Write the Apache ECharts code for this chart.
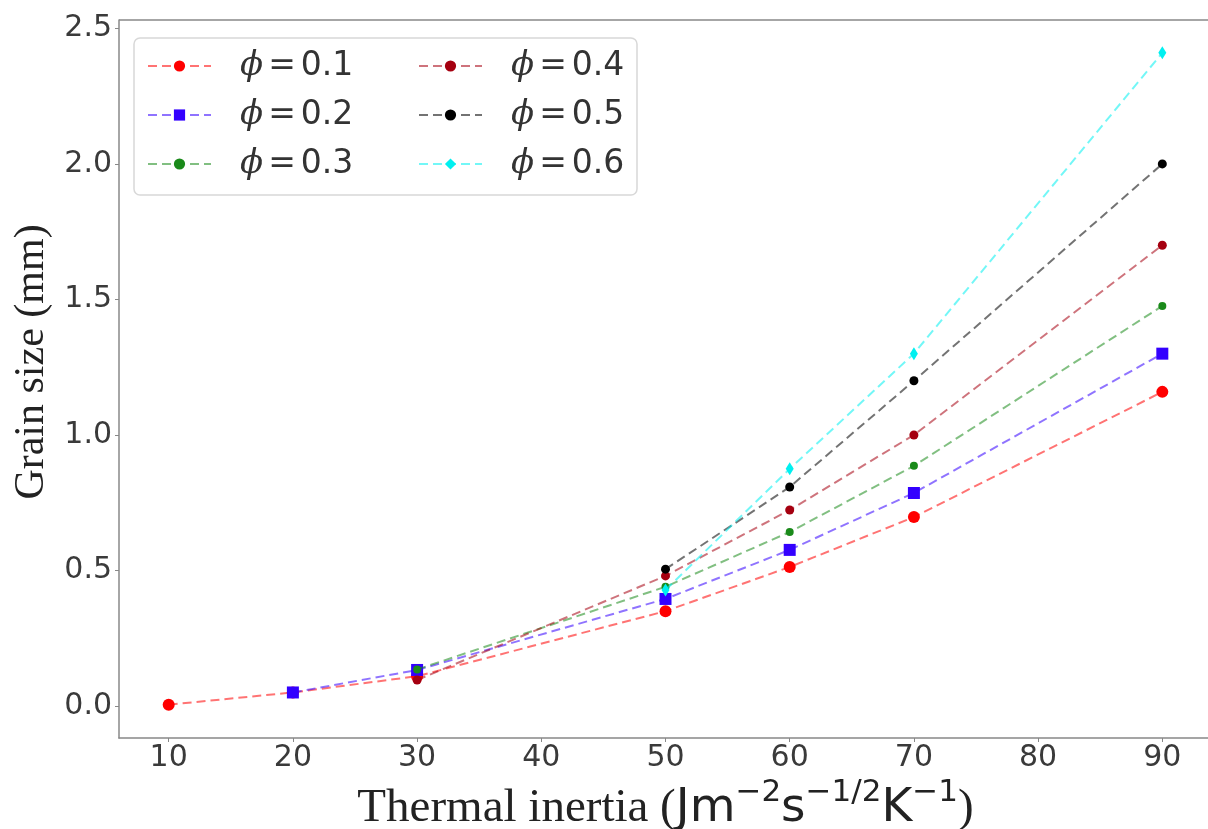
<!DOCTYPE html>
<html>
<head>
<meta charset="utf-8">
<style>
html,body{margin:0;padding:0;background:#fff;}
#chart{width:1208px;height:829px;}
</style>
<script src="https://cdn.jsdelivr.net/npm/echarts@6/dist/echarts.min.js"></script>
</head>
<body>
<div id="chart"></div>
<script>
// ---- data ----
const xValues = [10, 20, 30, 50, 60, 70, 90];
const xTicks = [10, 20, 30, 40, 50, 60, 70, 80, 90];
const yTicks = [0, 0.5, 1.0, 1.5, 2.0, 2.5];
const seriesNames = ['0.1', '0.2', '0.3', '0.4', '0.5', '0.6'];
const phi01 = [0.005, 0.05, 0.11, 0.35, 0.513, 0.697, 1.159];
const phi02 = [null, 0.05, 0.133, 0.395, 0.576, 0.786, 1.30];
const phi03 = [null, null, 0.135, 0.44, 0.642, 0.886, 1.476];
const phi04 = [null, null, 0.096, 0.48, 0.723, 1.0, 1.70];
const phi05 = [null, null, null, 0.505, 0.808, 1.20, 2.0];
const phi06 = [null, null, null, 0.428, 0.875, 1.30, 2.41];
const allValues = [phi01, phi02, phi03, phi04, phi05, phi06];

// ---- styles ----
const colors = ['#ff0000', '#3300ff', '#1a8a1a', '#a50010', '#000000', '#00f0f0'];
const symbols = ['circle', 'rect', 'circle', 'circle', 'circle', 'diamond'];
const symbolSizes = [12, 12, 8, 9, 9, [8, 13]];

function pairs(vals) {
  const out = [];
  vals.forEach((v, i) => { if (v !== null) out.push([xValues[i], v]); });
  return out;
}

const series = allValues.map((vals, k) => ({
  name: seriesNames[k],
  type: 'line',
  data: pairs(vals),
  symbol: symbols[k],
  symbolSize: symbolSizes[k],
  showAllSymbol: true,
  color: colors[k],
  itemStyle: { color: colors[k], opacity: 1 },
  lineStyle: { color: colors[k], width: 2, type: [9, 5], opacity: 0.55 },
  emphasis: { disabled: true },
  animation: false,
  z: 2 + k
}));

const legendText = {
  fontFamily: 'DejaVu Sans',
  fontSize: 33,
  color: '#333',
  lineHeight: 34,
  rich: {
    i: { fontFamily: 'DejaVu Serif', fontStyle: 'italic', fontSize: 34, color: '#333', lineHeight: 34, padding: [0, 0, 0, 24] },
    e: { fontFamily: 'DejaVu Sans', fontSize: 33, color: '#333', lineHeight: 34, padding: [0, 5, 0, 5] },
    t: { fontFamily: 'DejaVu Sans', fontSize: 33, color: '#333', lineHeight: 34 }
  }
};
const legendCommon = {
  orient: 'vertical',
  itemWidth: 63,
  itemHeight: 14,
  itemGap: 15,
  top: 49,
  padding: 0,
  textStyle: legendText,
  formatter: n => '{i|ϕ}{e|=}{t|' + n + '}',
  selectedMode: false
};

const chart = echarts.init(document.getElementById('chart'));
chart.setOption({
  backgroundColor: '#fff',
  animation: false,
  grid: { left: 119, top: 20, bottom: 91, right: -4, containLabel: false, outerBoundsMode: 'none' },
  legend: [
    Object.assign({}, legendCommon, { left: 147, data: seriesNames.slice(0, 3) }),
    Object.assign({}, legendCommon, { left: 418, data: seriesNames.slice(3, 6) })
  ],
  graphic: [{
    type: 'rect',
    shape: { x: 134, y: 38, width: 503, height: 157, r: 6 },
    style: { fill: 'rgba(255,255,255,0.8)', stroke: '#d8d8d8', lineWidth: 1.5 },
    z: 0
  }, {
    type: 'line',
    shape: { x1: 119, y1: 20, x2: 1208, y2: 20 },
    style: { stroke: '#888', lineWidth: 1.5 },
    z: 0
  }],
  xAxis: {
    type: 'value',
    min: 6, max: 94,
    splitLine: { show: false },
    axisLine: { show: true, onZero: false, lineStyle: { color: '#888', width: 1.5 } },
    axisTick: { show: true, length: 4, lineStyle: { color: '#888' }, customValues: xTicks },
    axisLabel: { customValues: xTicks, margin: 5, fontFamily: 'DejaVu Sans', fontSize: 30, color: '#3a3a3a' },
    name: '{s|Thermal inertia (}{m|Jm}{sup|−2}{m|s}{sup|−1/2}{m|K}{sup|−1}{s|)}',
    nameLocation: 'middle',
    nameGap: 29,
    nameTextStyle: {
      rich: {
        s: { fontFamily: 'Liberation Serif', fontSize: 47, color: '#222', verticalAlign: 'bottom', lineHeight: 54 },
        m: { fontFamily: 'DejaVu Sans', fontSize: 47, color: '#222', verticalAlign: 'bottom', lineHeight: 54 },
        sup: { fontFamily: 'DejaVu Sans', fontSize: 31, color: '#222', verticalAlign: 'top', lineHeight: 54, padding: [0, 0, 22, 0] }
      }
    }
  },
  yAxis: {
    type: 'value',
    min: -0.118, max: 2.531,
    splitLine: { show: false },
    axisLine: { show: true, onZero: false, lineStyle: { color: '#888', width: 1.5 } },
    axisTick: { show: true, length: 4, lineStyle: { color: '#888' }, customValues: yTicks },
    axisLabel: { customValues: yTicks, margin: 7, fontFamily: 'DejaVu Sans', fontSize: 30, color: '#3a3a3a',
      formatter: v => v.toFixed(1) },
    name: 'Grain size (mm)',
    nameLocation: 'middle',
    nameGap: 60,
    nameTextStyle: { fontFamily: 'Liberation Serif', fontSize: 42, color: '#222', padding: [0, 0, 0, 34] }
  },
  series: series
});
</script>
</body>
</html>
